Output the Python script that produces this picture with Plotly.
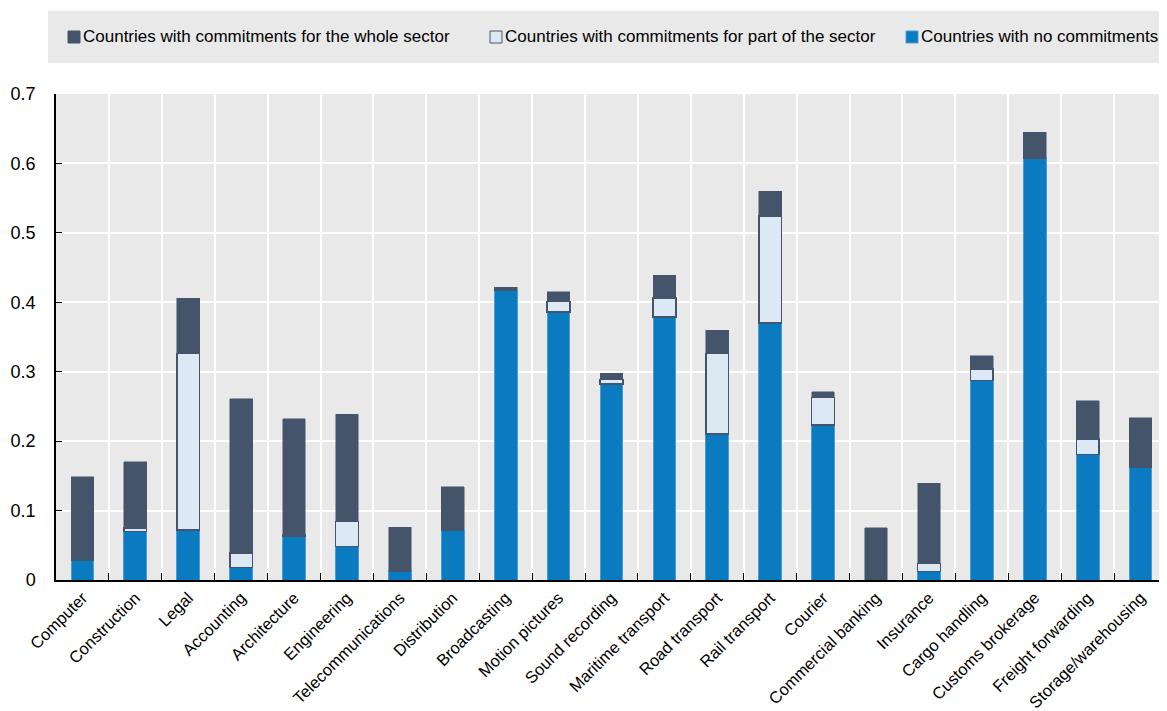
import plotly.graph_objects as go

categories = ["Computer", "Construction", "Legal", "Accounting", "Architecture", "Engineering",
              "Telecommunications", "Distribution", "Broadcasting", "Motion pictures",
              "Sound recording", "Maritime transport", "Road transport", "Rail transport",
              "Courier", "Commercial banking", "Insurance", "Cargo handling",
              "Customs brokerage", "Freight forwarding", "Storage/warehousing"]

no_commit = [0.029, 0.070, 0.072, 0.018, 0.063, 0.048, 0.013, 0.072, 0.417, 0.386,
             0.282, 0.379, 0.210, 0.370, 0.223, 0.0, 0.012, 0.287, 0.608, 0.181, 0.163]
part_sector = [0.0, 0.005, 0.254, 0.021, 0.002, 0.036, 0.0, 0.0, 0.0, 0.015,
               0.007, 0.027, 0.116, 0.154, 0.040, 0.0, 0.012, 0.017, 0.0, 0.022, 0.0]
whole_sector = [0.120, 0.095, 0.080, 0.222, 0.167, 0.155, 0.063, 0.062, 0.005, 0.014,
                0.009, 0.033, 0.034, 0.036, 0.008, 0.075, 0.115, 0.019, 0.037, 0.055, 0.071]

names = ["Countries with commitments for the whole sector",
         "Countries with commitments for part of the sector",
         "Countries with no commitments"]

C_BLUE = "#0B7BC1"
C_LIGHT = "#DCE8F4"
C_DARK = "#44546A"
FONT = "Liberation Sans, Arial, sans-serif"

# page has an 8px body margin; figure size/margins account for it
OFF = 8
W, H = 1159, 703
ML, MR, MT, MB = 48, 0, 86, 131

fig = go.Figure()
fig.add_trace(go.Bar(x=categories, y=no_commit, name=names[2],
                     marker=dict(color=C_BLUE, line=dict(color="#4C9AD6", width=1))))
fig.add_trace(go.Bar(x=categories, y=part_sector, name=names[1],
                     marker=dict(color=C_LIGHT, line=dict(color=C_DARK, width=1.5))))
fig.add_trace(go.Bar(x=categories, y=whole_sector, name=names[0],
                     marker=dict(color=C_DARK, line=dict(color=C_DARK, width=0.5))))

# custom legend (window pixel -> paper helpers)
pw = W - ML - MR
ph = H - MT - MB
def px(x):
    return (x - OFF - ML) / pw
def py(y):
    return (H - MB - (y - OFF)) / ph

shapes = [dict(type="rect", xref="paper", yref="paper", x0=px(48), x1=px(1167),
               y0=py(63), y1=py(11), fillcolor="#E9E9E9", line=dict(width=0), layer="below")]
annotations = []
legend_items = [(68, names[0], C_DARK, C_DARK),
                (490, names[1], C_LIGHT, C_DARK),
                (906, names[2], C_BLUE, "#4C9AD6")]
for x0, label, fill, edge in legend_items:
    shapes.append(dict(type="rect", xref="paper", yref="paper", x0=px(x0), x1=px(x0 + 12),
                       y0=py(43), y1=py(31), fillcolor=fill, line=dict(color=edge, width=1)))
    annotations.append(dict(xref="paper", yref="paper", x=px(x0 + 13), y=py(37),
                            text=label, showarrow=False, xanchor="left", yanchor="middle",
                            font=dict(family=FONT, size=17, color="#000000")))

fig.update_layout(
    barmode="stack",
    bargap=0.57,
    width=W, height=H,
    margin=dict(l=ML, r=MR, t=MT, b=MB, autoexpand=False),
    paper_bgcolor="white",
    plot_bgcolor="#E9E9E9",
    showlegend=False,
    font=dict(family=FONT, size=17, color="#000000"),
    shapes=shapes,
    annotations=annotations,
    xaxis=dict(
        type="category",
        automargin=False,
        tickson="boundaries",
        showgrid=True, gridcolor="white", gridwidth=1.5,
        ticks="inside", ticklen=7, tickcolor="#000000", tickwidth=1.2,
        showline=True, linecolor="#000000", linewidth=1.5,
        tickangle=-45,
        tickfont=dict(family=FONT, size=16.5, color="#000000"),
        range=[-0.5, len(categories) - 0.5],
    ),
    yaxis=dict(
        automargin=False,
        range=[0, 0.7], dtick=0.1, tick0=0,
        showgrid=True, gridcolor="white", gridwidth=1.5,
        zeroline=False,
        ticks="inside", ticklen=6, tickcolor="#000000", tickwidth=1.2,
        showline=True, linecolor="#000000", linewidth=1.5,
        tickfont=dict(family=FONT, size=18, color="#000000"),
        ticklabelstandoff=15,
    ),
)

fig.write_html("out.html")
